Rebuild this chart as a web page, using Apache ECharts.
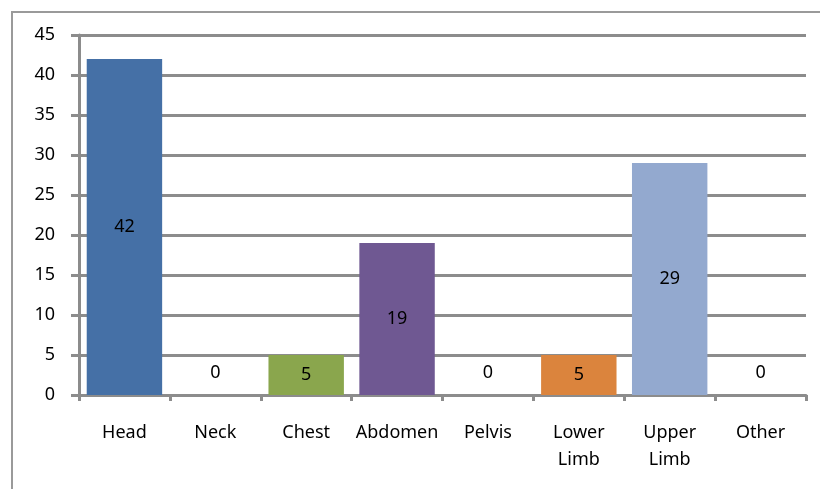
<!DOCTYPE html>
<html>
<head>
<meta charset="utf-8">
<script src="https://cdn.jsdelivr.net/npm/echarts@6/dist/echarts.min.js"></script>
<style>
  html, body { margin: 0; padding: 0; background: #fff; }
  #frame {
    position: absolute; left: 11px; top: 11px;
    width: 820px; height: 500px;
    border: 2px solid #9a9a9a; box-sizing: border-box;
  }
  #chart { position: absolute; left: 0; top: 0; width: 820px; height: 489px; }
</style>
</head>
<body>
<div id="frame"></div>
<div id="chart"></div>
<script>
// injury region counts
const categories = ['Head', 'Neck', 'Chest', 'Abdomen', 'Pelvis', 'Lower\nLimb', 'Upper\nLimb', 'Other'];
const counts = [42, 0, 5, 19, 0, 5, 29, 0];
const barColors = ['#4570A6', '#4F81BD', '#8AA64D', '#6F5892', '#4F81BD', '#DB843D', '#93A9CF', '#4F81BD'];

const gridColor = '#8c8c8c';
const font = 'Noto Sans';

const chart = echarts.init(document.getElementById('chart'));

const barData = counts.map((v, i) => ({
  value: v,
  itemStyle: { color: barColors[i] },
  // zero bars: Excel still puts the label a bit above the axis
  label: v === 0 ? { position: 'top', distance: 13 } : { position: 'inside' }
}));

chart.setOption({
  animation: false,
  grid: { left: 79, right: 14, top: 35, bottom: 94 },
  xAxis: {
    type: 'category',
    data: categories,
    axisLine: { lineStyle: { color: gridColor, width: 3 } },
    axisTick: { show: true, length: 6, lineStyle: { color: gridColor, width: 3 } },
    axisLabel: {
      color: '#000', fontFamily: font, fontSize: 18, lineHeight: 27,
      margin: 24, interval: 0
    }
  },
  yAxis: {
    type: 'value',
    min: 0, max: 45, interval: 5,
    axisLine: { show: true, lineStyle: { color: gridColor, width: 3 } },
    axisTick: { show: true, length: 8, lineStyle: { color: gridColor, width: 3 } },
    axisLabel: { color: '#000', fontFamily: font, fontSize: 18, margin: 24 },
    splitLine: { lineStyle: { color: gridColor, width: 3 } }
  },
  series: [{
    type: 'bar',
    data: barData,
    barCategoryGap: '17%',
    label: {
      show: true,
      color: '#000',
      fontFamily: font,
      fontSize: 18
    }
  }]
});
</script>
</body>
</html>
